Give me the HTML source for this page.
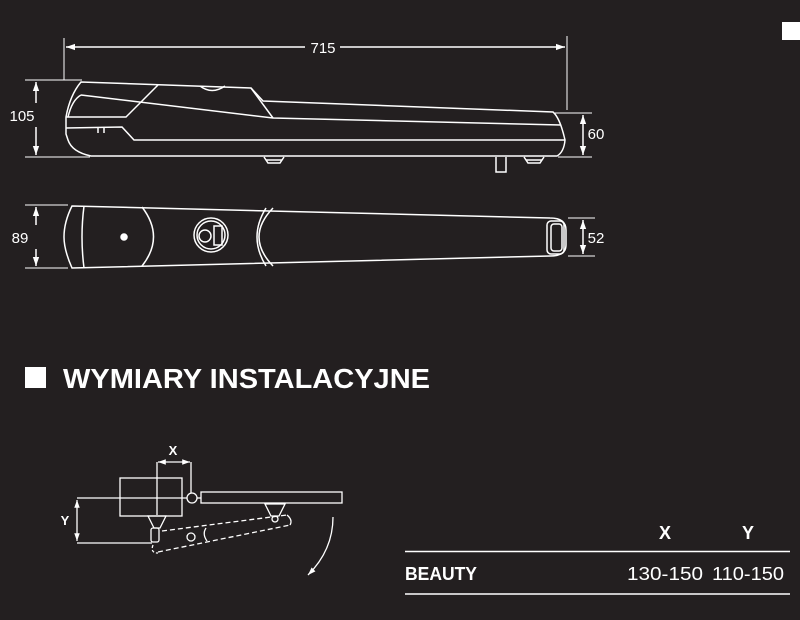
<!DOCTYPE html>
<html><head><meta charset="utf-8"><style>
html,body{margin:0;padding:0;background:#231f20;}
svg{display:block;}
text{font-family:"Liberation Sans",sans-serif;fill:#fff;}
</style></head><body>
<svg width="800" height="620" viewBox="0 0 800 620" xmlns="http://www.w3.org/2000/svg">
<defs>
<marker id="a" viewBox="0 0 10 10" refX="10" refY="5" markerWidth="6" markerHeight="6" orient="auto-start-reverse"><path d="M0,1.5L10,5L0,8.5z" fill="#fff"/></marker>
</defs>
<rect width="800" height="620" fill="#231f20"/>
<rect x="782" y="22" width="18" height="18" fill="#fff"/>
<g stroke="#fff" fill="none" stroke-width="1.5">
<line x1="64" y1="38" x2="64" y2="80" stroke-width="1"/>
<line x1="567" y1="36" x2="567" y2="110" stroke-width="1"/>
<line x1="66" y1="47" x2="305" y2="47" marker-start="url(#a)"/>
<line x1="340" y1="47" x2="565" y2="47" marker-end="url(#a)"/>
<line x1="25" y1="80" x2="82" y2="80" stroke-width="1"/>
<line x1="25" y1="157" x2="90" y2="157" stroke-width="1"/>
<line x1="36" y1="82" x2="36" y2="103" marker-start="url(#a)"/>
<line x1="36" y1="127" x2="36" y2="155" marker-end="url(#a)"/>
<line x1="555" y1="113" x2="592" y2="113" stroke-width="1"/>
<line x1="558" y1="157" x2="592" y2="157" stroke-width="1"/>
<line x1="583" y1="115" x2="583" y2="155" marker-start="url(#a)" marker-end="url(#a)"/>
<path d="M81,82 L251,88 L263,101 L553,112 Q560,118 565,140 Q564,152 557,156 L91,156 Q72,152 68,140 L66,134 L66,117 Q70,95 81,82Z"/>
<path d="M81,95 L273,118 L561,125"/>
<path d="M81,95 Q72,100 68,117"/>
<path d="M158,85 L126,117 L66,117"/>
<path d="M251,88 L273,118"/>
<path d="M66,128 L122,127 L134,140 L565,140"/>
<path d="M98,127 L98,133 M104,127 L104,133"/>
<path d="M200,86 Q212,95 225,86"/>
<path d="M264,157 L268,163 L280,163 L284,157 M266,160 L282,160"/>
<path d="M496,157 L496,172 L506,172 L506,157"/>
<path d="M524,157 L528,163 L540,163 L544,157 M526,160 L542,160"/>
<line x1="25" y1="205" x2="68" y2="205" stroke-width="1"/>
<line x1="25" y1="268" x2="68" y2="268" stroke-width="1"/>
<line x1="36" y1="207" x2="36" y2="225" marker-start="url(#a)"/>
<line x1="36" y1="249" x2="36" y2="266" marker-end="url(#a)"/>
<line x1="568" y1="218" x2="595" y2="218" stroke-width="1"/>
<line x1="568" y1="256" x2="595" y2="256" stroke-width="1"/>
<line x1="583" y1="220" x2="583" y2="254" marker-start="url(#a)" marker-end="url(#a)"/>
<path d="M72,206 L550,218 Q566,218 566,230 L566,245 Q566,256 550,256 L72,268 Q64,250 64,237 Q64,222 72,206Z"/>
<path d="M84,206 Q80,237 84,268"/>
<path d="M142,207 Q165,237 142,266"/>
<path d="M273,208 Q245,237 273,266"/>
<path d="M266,208 Q248,237 266,266"/>
<rect x="547" y="221" width="17" height="33" rx="4"/>
<rect x="551" y="224" width="11" height="27" rx="3"/>
<circle cx="124" cy="237" r="3" fill="#fff"/>
<ellipse cx="211" cy="235" rx="17" ry="17"/>
<ellipse cx="211" cy="235" rx="14" ry="14"/>
<circle cx="205" cy="236" r="6"/>
<rect x="214" y="226" width="8" height="19"/>
</g>
<text x="323" y="53" font-size="15" text-anchor="middle">715</text>
<text x="22" y="121" font-size="15" text-anchor="middle">105</text>
<text x="596" y="139" font-size="15" text-anchor="middle">60</text>
<text x="20" y="243" font-size="15" text-anchor="middle">89</text>
<text x="596" y="243" font-size="15" text-anchor="middle">52</text>

<rect x="25" y="367" width="21" height="21" fill="#fff"/>
<text x="63" y="388" font-size="28" font-weight="bold" textLength="367" lengthAdjust="spacingAndGlyphs">WYMIARY INSTALACYJNE</text>

<g stroke="#fff" fill="none" stroke-width="1.3">
<line x1="157" y1="462" x2="157" y2="515"/>
<line x1="191" y1="462" x2="191" y2="493"/>
<line x1="158" y1="462" x2="190" y2="462" marker-start="url(#a)" marker-end="url(#a)"/>
<rect x="120" y="478" width="62" height="38"/>
<line x1="77" y1="498" x2="187" y2="498"/>
<circle cx="192" cy="498" r="5"/>
<line x1="197" y1="498" x2="201" y2="498"/>
<rect x="201" y="492" width="141" height="11"/>
<line x1="77" y1="500" x2="77" y2="541" marker-start="url(#a)" marker-end="url(#a)"/>
<line x1="77" y1="543" x2="152" y2="543"/>
<path d="M148,516 L166,516 L160,528 L154,528Z"/>
<rect x="151" y="528" width="8" height="14" rx="2"/>
<path d="M265,504 L285,504 L279,516 L271,516Z"/>
<circle cx="275" cy="519" r="3"/>
<path d="M158,552 L290,525 M162,531 L287,515" stroke-dasharray="5,3"/>
<path d="M153,545 Q150,553 158,553" stroke-dasharray="3,2"/>
<path d="M287,515 Q293,520 290,525"/>
<circle cx="191" cy="537" r="4"/>
<path d="M206,528 Q202,534 207,541"/>
<path d="M333,517 Q333,550 308,575" marker-end="url(#a)"/>
</g>
<text x="173" y="455" font-size="13" font-weight="bold" text-anchor="middle">X</text>
<text x="65" y="525" font-size="13" font-weight="bold" text-anchor="middle">Y</text>

<text x="665" y="539" font-size="18" font-weight="bold" text-anchor="middle">X</text>
<text x="748" y="539" font-size="18" font-weight="bold" text-anchor="middle">Y</text>
<line x1="405" y1="551.5" x2="790" y2="551.5" stroke="#fff" stroke-width="1.5"/>
<text x="405" y="580" font-size="18" font-weight="bold" textLength="72" lengthAdjust="spacingAndGlyphs">BEAUTY</text>
<text x="703" y="580" font-size="18" text-anchor="end" textLength="76" lengthAdjust="spacingAndGlyphs">130-150</text>
<text x="784" y="580" font-size="18" text-anchor="end" textLength="72" lengthAdjust="spacingAndGlyphs">110-150</text>
<line x1="405" y1="594" x2="790" y2="594" stroke="#fff" stroke-width="1.5"/>
</svg>
</body></html>
